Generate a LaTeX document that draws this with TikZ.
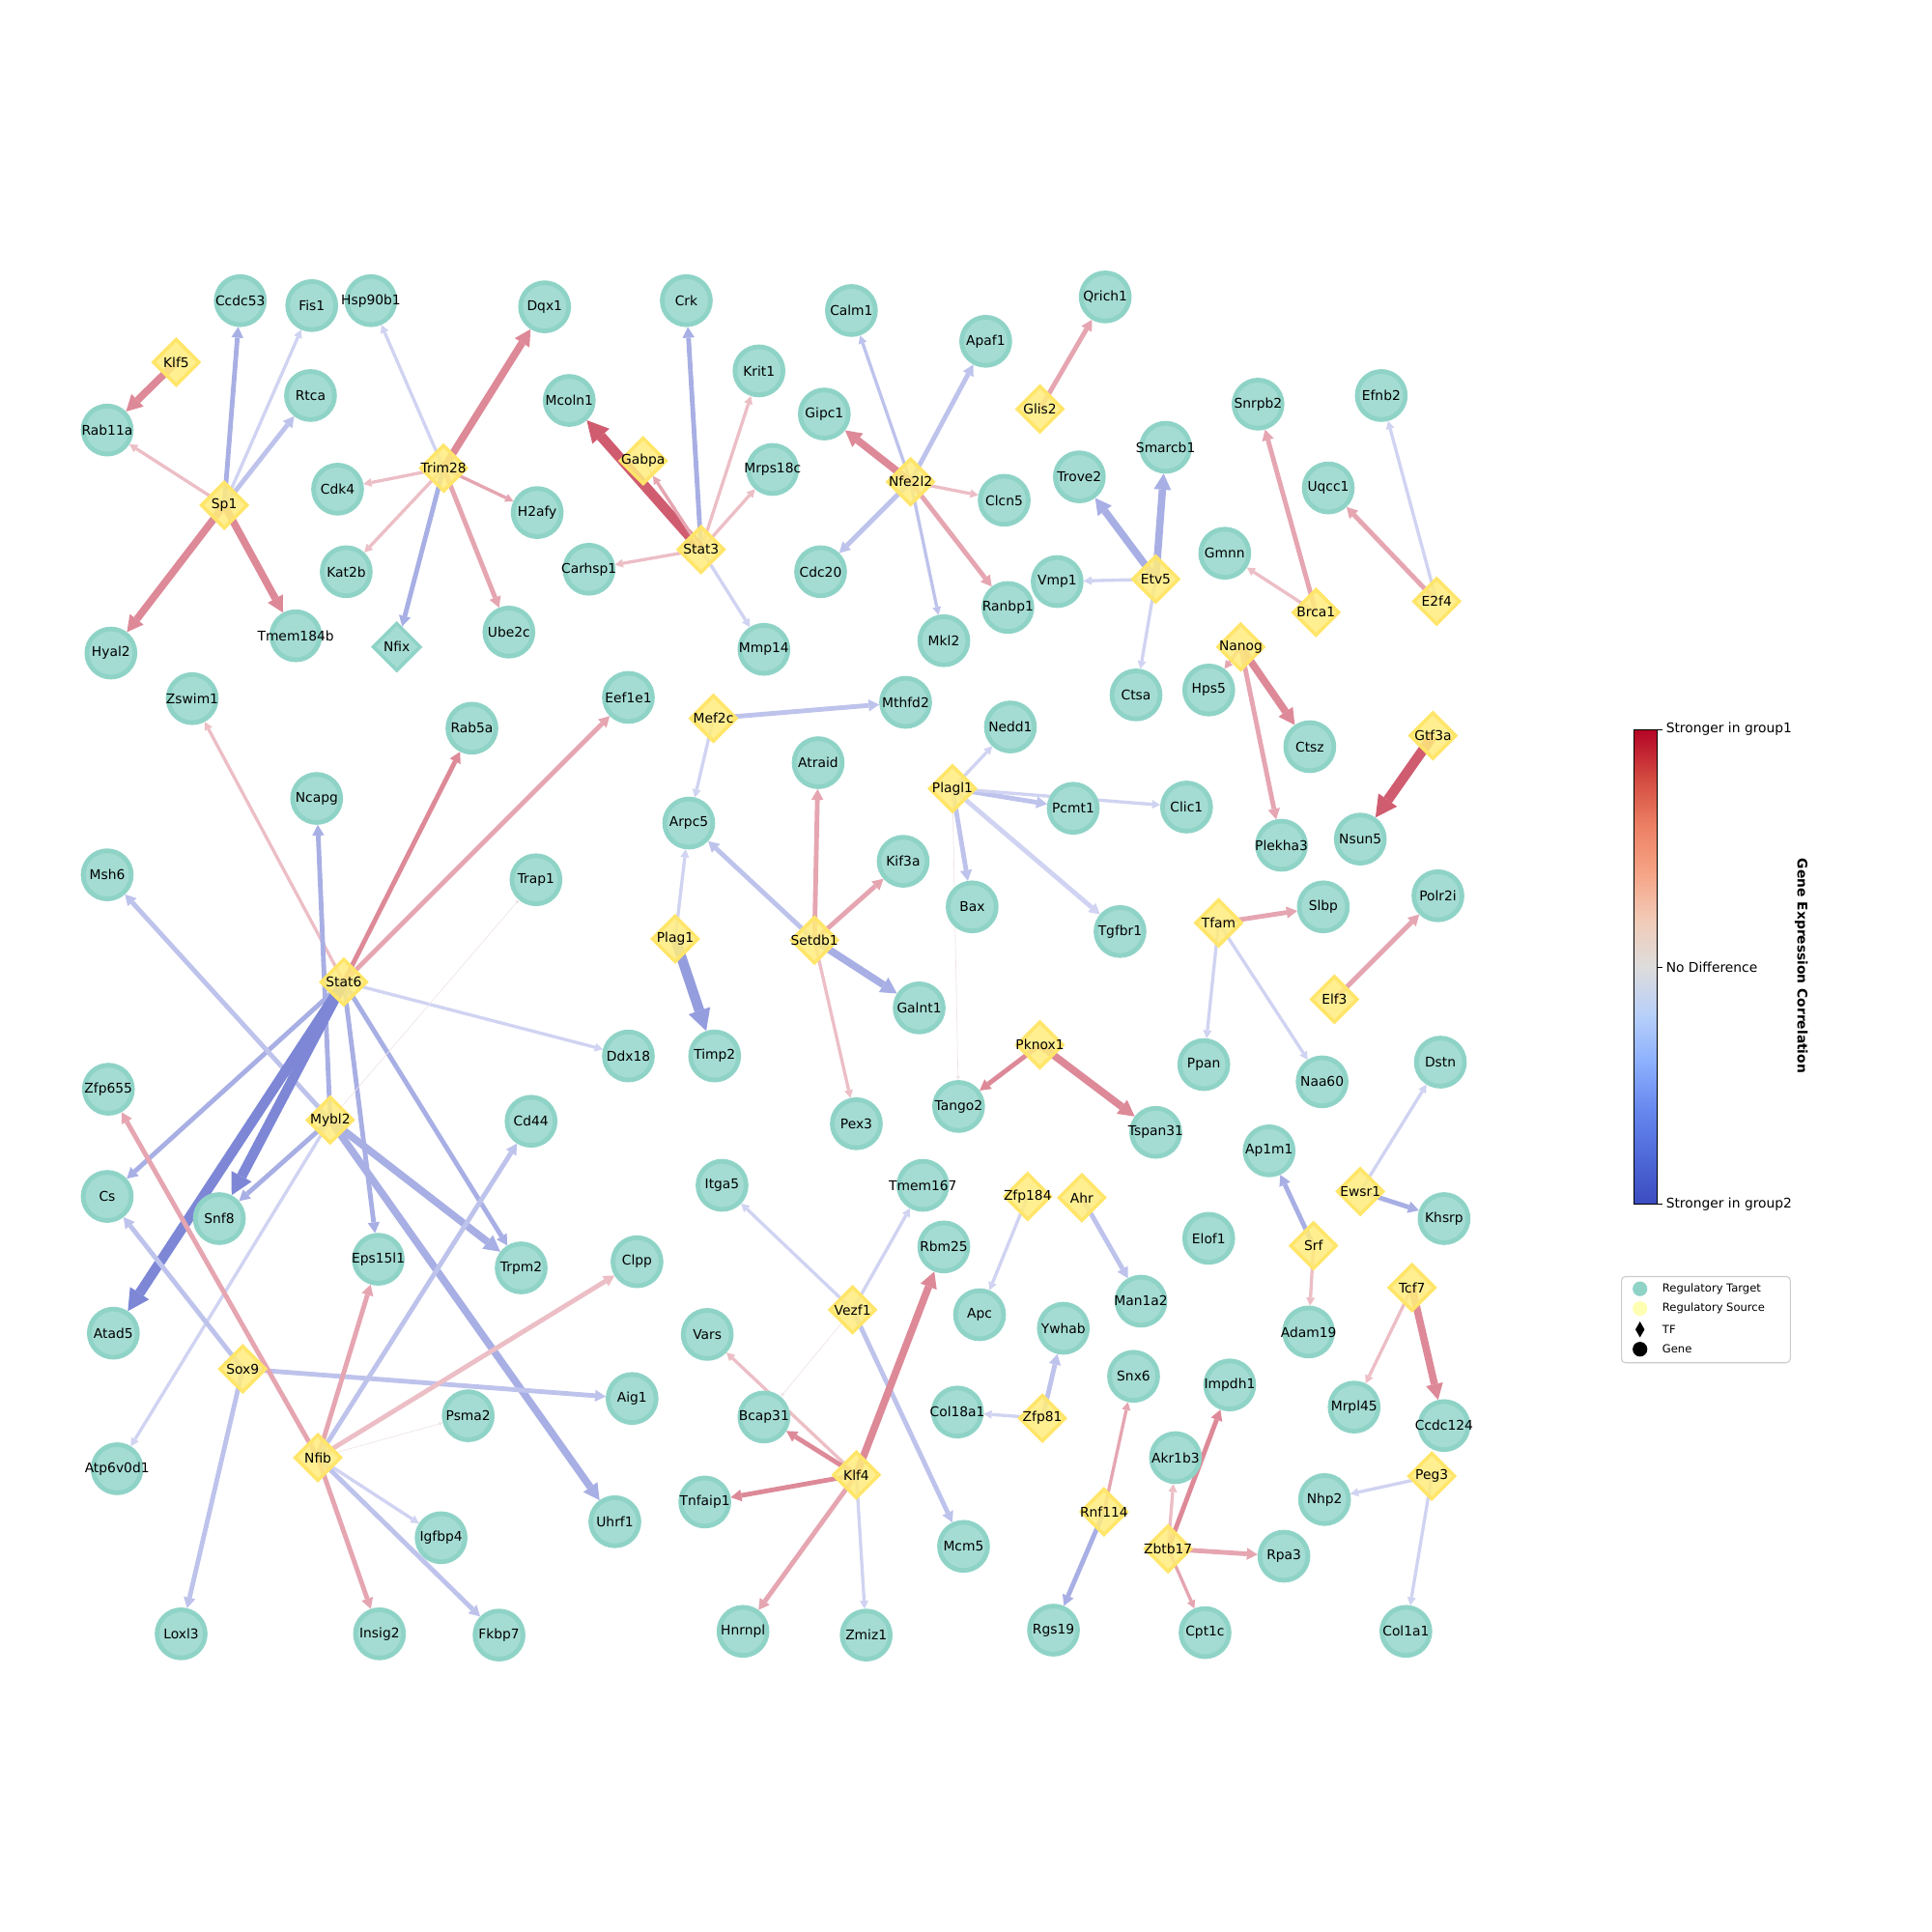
\documentclass[tikz,border=0pt]{standalone}
\usepackage{fontspec}
\setmainfont{DejaVu Sans}
\usetikzlibrary{arrows.meta,shapes.geometric}
\pgfdeclarelayer{edges}
\pgfsetlayers{edges,main}

\definecolor{tgtfill}{RGB}{164,220,211}
\definecolor{tgtring}{RGB}{143,211,199}
\definecolor{srcfill}{RGB}{255,236,125}
\definecolor{srcring}{RGB}{255,229,105}
\definecolor{cUp1}{RGB}{208,92,112}
\definecolor{cUp2}{RGB}{221,137,152}
\definecolor{cUp3}{RGB}{229,165,177}
\definecolor{cUp4}{RGB}{236,190,198}
\definecolor{cDn0}{RGB}{125,135,214}
\definecolor{cDn1}{RGB}{148,157,222}
\definecolor{cDn2}{RGB}{168,175,228}
\definecolor{cDn3}{RGB}{190,195,236}
\definecolor{cDn4}{RGB}{208,211,241}
\definecolor{cFaint}{RGB}{238,228,231}
\definecolor{cw0}{RGB}{59,76,192}
\definecolor{cw1}{RGB}{79,105,217}
\definecolor{cw2}{RGB}{103,136,238}
\definecolor{cw3}{RGB}{141,176,254}
\definecolor{cw4}{RGB}{184,208,249}
\definecolor{cw5}{RGB}{221,220,220}
\definecolor{cw6}{RGB}{242,203,183}
\definecolor{cw7}{RGB}{246,163,133}
\definecolor{cw8}{RGB}{236,127,99}
\definecolor{cw9}{RGB}{210,73,64}
\definecolor{cw10}{RGB}{180,4,38}

\begin{document}
\begin{tikzpicture}[x=0.0324cm,y=-0.0324cm,
  lbl/.style={font=\fontsize{10}{12}\selectfont,inner sep=0pt},
  tgt/.style={circle,fill=tgtfill,draw=tgtring,line width=3.5pt,minimum size=36pt,inner sep=0pt,label={[lbl]center:#1}},
  src/.style={diamond,fill=srcfill,draw=srcring,fill opacity=0.85,line width=2.5pt,minimum size=35pt,inner sep=0pt,label={[lbl]center:#1}},
  tfx/.style={diamond,fill=tgtfill,draw=tgtring,line width=2.5pt,minimum size=36pt,inner sep=0pt,label={[lbl]center:#1}},
  w1/.style={line width=0.5pt,-{Triangle[length=3pt,width=3pt,line width=0pt]}},
  w2/.style={line width=2.4pt,-{Triangle[length=6pt,width=6.5pt,line width=0pt]}},
  w3/.style={line width=3.5pt,-{Triangle[length=8pt,width=9pt,line width=0pt]}},
  w4/.style={line width=5.5pt,-{Triangle[length=12pt,width=13pt,line width=0pt]}},
  w5/.style={line width=7.5pt,-{Triangle[length=16pt,width=17pt,line width=0pt]}},
  up1/.style={draw=cUp1},up2/.style={draw=cUp2},up3/.style={draw=cUp3},up4/.style={draw=cUp4},
  dn0/.style={draw=cDn0},dn1/.style={draw=cDn1},dn2/.style={draw=cDn2},dn3/.style={draw=cDn3},dn4/.style={draw=cDn4},
  faint/.style={draw=cFaint},
  cbtext/.style={anchor=west,font=\fontsize{10}{12}\selectfont,inner sep=0pt},
  legtext/.style={anchor=west,font=\fontsize{8.33}{10}\selectfont,inner sep=0pt}]

  \useasboundingbox (0,0) rectangle (1568,1568);

  % regulatory sources
  \node[src=Klf5] (klf5) at (143,294) {};
  \node[src=Sp1] (sp1) at (182,410) {};
  \node[src=Trim28] (trim28) at (360,380) {};
  \node[src=Gabpa] (gabpa) at (522,374) {};
  \node[src=Stat3] (stat3) at (569,446) {};
  \node[src=Nfe2l2] (nfe2l2) at (739,391) {};
  \node[src=Glis2] (glis2) at (844,332) {};
  \node[src=Etv5] (etv5) at (938,470) {};
  \node[src=Brca1] (brca1) at (1068,497) {};
  \node[src=E2f4] (e2f4) at (1166,488) {};
  \node[src=Nanog] (nanog) at (1007,525) {};
  \node[src=Gtf3a] (gtf3a) at (1163,597) {};
  \node[src=Stat6] (stat6) at (279,797) {};
  \node[src=Mybl2] (mybl2) at (268,909) {};
  \node[src=Sox9] (sox9) at (197,1111) {};
  \node[src=Nfib] (nfib) at (258,1183) {};
  \node[src=Mef2c] (mef2c) at (579,583) {};
  \node[src=Plag1] (plag1) at (548,762) {};
  \node[src=Setdb1] (setdb1) at (661,763) {};
  \node[src=Plagl1] (plagl1) at (773,640) {};
  \node[src=Pknox1] (pknox1) at (844,848) {};
  \node[src=Tfam] (tfam) at (989,749) {};
  \node[src=Elf3] (elf3) at (1083,811) {};
  \node[src=Ewsr1] (ewsr1) at (1104,967) {};
  \node[src=Srf] (srf) at (1066,1011) {};
  \node[src=Tcf7] (tcf7) at (1146,1045) {};
  \node[src=Peg3] (peg3) at (1162,1198) {};
  \node[src=Zfp184] (zfp184) at (834,971) {};
  \node[src=Ahr] (ahr) at (878,972) {};
  \node[src=Vezf1] (vezf1) at (692,1063) {};
  \node[src=Zfp81] (zfp81) at (846,1151) {};
  \node[src=Klf4] (klf4) at (695,1197) {};
  \node[src=Rnf114] (rnf114) at (896,1227) {};
  \node[src=Zbtb17] (zbtb17) at (948,1257) {};
  \node[tfx=Nfix] (nfix) at (322,525) {};

  % regulatory targets
  \node[tgt=Ccdc53] (ccdc53) at (195,244) {};
  \node[tgt=Fis1] (fis1) at (253,248) {};
  \node[tgt=Hsp90b1] (hsp90b1) at (301,244) {};
  \node[tgt=Dqx1] (dqx1) at (442,249) {};
  \node[tgt=Rtca] (rtca) at (252,321) {};
  \node[tgt=Rab11a] (rab11a) at (87,349) {};
  \node[tgt=Cdk4] (cdk4) at (274,397) {};
  \node[tgt=H2afy] (h2afy) at (436,416) {};
  \node[tgt=Kat2b] (kat2b) at (281,464) {};
  \node[tgt=Hyal2] (hyal2) at (90,530) {};
  \node[tgt=Tmem184b] (tmem184b) at (240,516) {};
  \node[tgt=Ube2c] (ube2c) at (413,513) {};
  \node[tgt=Crk] (crk) at (557,244) {};
  \node[tgt=Krit1] (krit1) at (616,301) {};
  \node[tgt=Mcoln1] (mcoln1) at (462,325) {};
  \node[tgt=Mrps18c] (mrps18c) at (627,381) {};
  \node[tgt=Carhsp1] (carhsp1) at (478,462) {};
  \node[tgt=Mmp14] (mmp14) at (620,527) {};
  \node[tgt=Calm1] (calm1) at (691,252) {};
  \node[tgt=Apaf1] (apaf1) at (800,277) {};
  \node[tgt=Gipc1] (gipc1) at (669,336) {};
  \node[tgt=Clcn5] (clcn5) at (815,406) {};
  \node[tgt=Cdc20] (cdc20) at (666,464) {};
  \node[tgt=Ranbp1] (ranbp1) at (818,493) {};
  \node[tgt=Mkl2] (mkl2) at (766,520) {};
  \node[tgt=Qrich1] (qrich1) at (897,241) {};
  \node[tgt=Smarcb1] (smarcb1) at (946,363) {};
  \node[tgt=Trove2] (trove2) at (876,387) {};
  \node[tgt=Vmp1] (vmp1) at (858,472) {};
  \node[tgt=Ctsa] (ctsa) at (922,564) {};
  \node[tgt=Snrpb2] (snrpb2) at (1021,328) {};
  \node[tgt=Efnb2] (efnb2) at (1121,321) {};
  \node[tgt=Uqcc1] (uqcc1) at (1078,396) {};
  \node[tgt=Gmnn] (gmnn) at (994,449) {};
  \node[tgt=Hps5] (hps5) at (981,560) {};
  \node[tgt=Ctsz] (ctsz) at (1063,606) {};
  \node[tgt=Plekha3] (plekha3) at (1040,686) {};
  \node[tgt=Nsun5] (nsun5) at (1104,681) {};
  \node[tgt=Zswim1] (zswim1) at (156,567) {};
  \node[tgt=Eef1e1] (eef1e1) at (510,566) {};
  \node[tgt=Rab5a] (rab5a) at (383,591) {};
  \node[tgt=Ncapg] (ncapg) at (257,648) {};
  \node[tgt=Msh6] (msh6) at (87,710) {};
  \node[tgt=Trap1] (trap1) at (435,714) {};
  \node[tgt=Ddx18] (ddx18) at (510,857) {};
  \node[tgt=Zfp655] (zfp655) at (88,884) {};
  \node[tgt=Cd44] (cd44) at (431,910) {};
  \node[tgt=Cs] (cs) at (87,971) {};
  \node[tgt=Snf8] (snf8) at (178,989) {};
  \node[tgt=Eps15l1] (eps15l1) at (307,1022) {};
  \node[tgt=Trpm2] (trpm2) at (423,1029) {};
  \node[tgt=Clpp] (clpp) at (517,1024) {};
  \node[tgt=Atad5] (atad5) at (92,1082) {};
  \node[tgt=Aig1] (aig1) at (513,1135) {};
  \node[tgt=Psma2] (psma2) at (380,1149) {};
  \node[tgt=Atp6v0d1] (atp6v0d1) at (95,1192) {};
  \node[tgt=Igfbp4] (igfbp4) at (358,1248) {};
  \node[tgt=Uhrf1] (uhrf1) at (499,1235) {};
  \node[tgt=Loxl3] (loxl3) at (147,1326) {};
  \node[tgt=Insig2] (insig2) at (308,1326) {};
  \node[tgt=Fkbp7] (fkbp7) at (405,1327) {};
  \node[tgt=Mthfd2] (mthfd2) at (735,570) {};
  \node[tgt=Atraid] (atraid) at (664,619) {};
  \node[tgt=Arpc5] (arpc5) at (559,668) {};
  \node[tgt=Kif3a] (kif3a) at (733,699) {};
  \node[tgt=Galnt1] (galnt1) at (746,818) {};
  \node[tgt=Timp2] (timp2) at (580,857) {};
  \node[tgt=Pex3] (pex3) at (695,912) {};
  \node[tgt=Nedd1] (nedd1) at (820,590) {};
  \node[tgt=Pcmt1] (pcmt1) at (871,656) {};
  \node[tgt=Clic1] (clic1) at (963,655) {};
  \node[tgt=Bax] (bax) at (789,736) {};
  \node[tgt=Tgfbr1] (tgfbr1) at (909,756) {};
  \node[tgt=Tango2] (tango2) at (778,898) {};
  \node[tgt=Tspan31] (tspan31) at (938,919) {};
  \node[tgt=Slbp] (slbp) at (1074,736) {};
  \node[tgt=Polr2i] (polr2i) at (1167,727) {};
  \node[tgt=Ppan] (ppan) at (977,864) {};
  \node[tgt=Naa60] (naa60) at (1073,878) {};
  \node[tgt=Dstn] (dstn) at (1169,862) {};
  \node[tgt=Ap1m1] (ap1m1) at (1030,934) {};
  \node[tgt=Khsrp] (khsrp) at (1172,989) {};
  \node[tgt=Elof1] (elof1) at (981,1005) {};
  \node[tgt=Adam19] (adam19) at (1062,1081) {};
  \node[tgt=Mrpl45] (mrpl45) at (1099,1142) {};
  \node[tgt=Ccdc124] (ccdc124) at (1172,1157) {};
  \node[tgt=Nhp2] (nhp2) at (1075,1217) {};
  \node[tgt=Rpa3] (rpa3) at (1042,1263) {};
  \node[tgt=Col1a1] (col1a1) at (1141,1324) {};
  \node[tgt=Itga5] (itga5) at (586,962) {};
  \node[tgt=Tmem167] (tmem167) at (749,962) {};
  \node[tgt=Rbm25] (rbm25) at (766,1012) {};
  \node[tgt=Apc] (apc) at (795,1067) {};
  \node[tgt=Man1a2] (man1a2) at (926,1056) {};
  \node[tgt=Ywhab] (ywhab) at (863,1078) {};
  \node[tgt=Vars] (vars) at (574,1083) {};
  \node[tgt=Bcap31] (bcap31) at (620,1150) {};
  \node[tgt=Col18a1] (col18a1) at (777,1146) {};
  \node[tgt=Snx6] (snx6) at (920,1117) {};
  \node[tgt=Impdh1] (impdh1) at (998,1124) {};
  \node[tgt=Akr1b3] (akr1b3) at (954,1183) {};
  \node[tgt=Tnfaip1] (tnfaip1) at (572,1219) {};
  \node[tgt=Mcm5] (mcm5) at (782,1255) {};
  \node[tgt=Hnrnpl] (hnrnpl) at (603,1324) {};
  \node[tgt=Zmiz1] (zmiz1) at (703,1327) {};
  \node[tgt=Rgs19] (rgs19) at (855,1323) {};
  \node[tgt=Cpt1c] (cpt1c) at (978,1325) {};

  \begin{pgfonlayer}{edges}
  \path (klf5.center) edge[w4,up2] (rab11a)
    (sp1.center) edge[w2,up4] (rab11a)
    (sp1.center) edge[w3,dn2] (ccdc53)
    (sp1.center) edge[w2,dn4] (fis1)
    (sp1.center) edge[w3,dn3] (rtca)
    (sp1.center) edge[w4,up2] (hyal2)
    (sp1.center) edge[w4,up2] (tmem184b)
    (trim28.center) edge[w2,dn4] (hsp90b1)
    (trim28.center) edge[w4,up2] (dqx1)
    (trim28.center) edge[w2,up4] (cdk4)
    (trim28.center) edge[w2,up3] (h2afy)
    (trim28.center) edge[w2,up4] (kat2b)
    (trim28.center) edge[w3,dn2] (nfix)
    (trim28.center) edge[w3,up3] (ube2c)
    (stat3.center) edge[w3,dn2] (crk)
    (stat3.center) edge[w2,up4] (krit1)
    (stat3.center) edge[w5,up1] (mcoln1)
    (stat3.center) edge[w2,up3] (gabpa)
    (gabpa.center) edge[w1,up3] (stat3)
    (stat3.center) edge[w2,up4] (mrps18c)
    (stat3.center) edge[w2,up4] (carhsp1)
    (stat3.center) edge[w2,dn4] (mmp14)
    (nfe2l2.center) edge[w2,dn3] (calm1)
    (nfe2l2.center) edge[w3,dn3] (apaf1)
    (nfe2l2.center) edge[w4,up2] (gipc1)
    (nfe2l2.center) edge[w2,up4] (clcn5)
    (nfe2l2.center) edge[w3,dn3] (cdc20)
    (nfe2l2.center) edge[w3,up3] (ranbp1)
    (nfe2l2.center) edge[w2,dn3] (mkl2)
    (glis2.center) edge[w3,up3] (qrich1)
    (etv5.center) edge[w4,dn2] (smarcb1)
    (etv5.center) edge[w4,dn2] (trove2)
    (etv5.center) edge[w2,dn4] (vmp1)
    (etv5.center) edge[w2,dn4] (ctsa)
    (brca1.center) edge[w3,up3] (snrpb2)
    (brca1.center) edge[w2,up4] (gmnn)
    (e2f4.center) edge[w3,up3] (uqcc1)
    (e2f4.center) edge[w2,dn4] (efnb2)
    (nanog.center) edge[w2,up3] (hps5)
    (nanog.center) edge[w4,up2] (ctsz)
    (nanog.center) edge[w3,up3] (plekha3)
    (gtf3a.center) edge[w5,up1] (nsun5);
  \path (stat6.center) edge[w2,up4] (zswim1)
    (stat6.center) edge[w3,up2] (rab5a)
    (stat6.center) edge[w3,up3] (eef1e1)
    (stat6.center) edge[w2,dn4] (ddx18)
    (stat6.center) edge[w3,dn2] (cs)
    (stat6.center) edge[w3,dn2] (eps15l1)
    (stat6.center) edge[w3,dn2] (trpm2)
    (mybl2.center) edge[w3,dn2] (ncapg)
    (mybl2.center) edge[w3,dn3] (msh6)
    (mybl2.center) edge[w3,dn2] (snf8)
    (mybl2.center) edge[w4,dn2] (trpm2)
    (mybl2.center) edge[w4,dn2] (uhrf1)
    (mybl2.center) edge[w1,faint] (trap1)
    (mybl2.center) edge[w2,dn4] (atp6v0d1)
    (stat6.center) edge[w5,dn0] (snf8)
    (stat6.center) edge[w5,dn0] (atad5)
    (sox9.center) edge[w3,dn3] (cs)
    (sox9.center) edge[w3,dn3] (aig1)
    (sox9.center) edge[w3,dn3] (loxl3)
    (nfib.center) edge[w3,up3] (zfp655)
    (nfib.center) edge[w3,up3] (eps15l1)
    (nfib.center) edge[w3,dn3] (cd44)
    (nfib.center) edge[w3,up4] (clpp)
    (nfib.center) edge[w1,faint] (psma2)
    (nfib.center) edge[w2,dn4] (igfbp4)
    (nfib.center) edge[w3,dn3] (fkbp7)
    (nfib.center) edge[w3,up3] (insig2);
  \path (mef2c.center) edge[w3,dn3] (mthfd2)
    (mef2c.center) edge[w2,dn4] (arpc5)
    (plag1.center) edge[w2,dn4] (arpc5)
    (plag1.center) edge[w5,dn1] (timp2)
    (setdb1.center) edge[w3,dn3] (arpc5)
    (setdb1.center) edge[w3,up3] (atraid)
    (setdb1.center) edge[w3,up3] (kif3a)
    (setdb1.center) edge[w4,dn2] (galnt1)
    (setdb1.center) edge[w2,up4] (pex3)
    (plagl1.center) edge[w2,dn4] (nedd1)
    (plagl1.center) edge[w3,dn3] (pcmt1)
    (plagl1.center) edge[w2,dn4] (clic1)
    (plagl1.center) edge[w3,dn3] (bax)
    (plagl1.center) edge[w3,dn4] (tgfbr1)
    (plagl1.center) edge[w1,faint] (tango2)
    (pknox1.center) edge[w3,up2] (tango2)
    (pknox1.center) edge[w4,up2] (tspan31)
    (tfam.center) edge[w3,up3] (slbp)
    (tfam.center) edge[w2,dn4] (ppan)
    (tfam.center) edge[w2,dn4] (naa60)
    (elf3.center) edge[w3,up3] (polr2i)
    (ewsr1.center) edge[w2,dn4] (dstn)
    (ewsr1.center) edge[w3,dn2] (khsrp)
    (srf.center) edge[w3,dn2] (ap1m1)
    (srf.center) edge[w2,up4] (adam19)
    (tcf7.center) edge[w2,up4] (mrpl45)
    (tcf7.center) edge[w4,up2] (ccdc124)
    (peg3.center) edge[w2,dn4] (nhp2)
    (peg3.center) edge[w2,dn4] (col1a1);
  \path (zfp184.center) edge[w2,dn4] (apc)
    (ahr.center) edge[w3,dn3] (man1a2)
    (zfp81.center) edge[w3,dn3] (ywhab)
    (zfp81.center) edge[w2,dn4] (col18a1)
    (vezf1.center) edge[w2,dn4] (itga5)
    (vezf1.center) edge[w2,dn4] (tmem167)
    (vezf1.center) edge[w3,dn3] (mcm5)
    (vezf1.center) edge[w1,faint] (bcap31)
    (klf4.center) edge[w4,up2] (rbm25)
    (klf4.center) edge[w2,up4] (vars)
    (klf4.center) edge[w3,up2] (bcap31)
    (klf4.center) edge[w3,up2] (tnfaip1)
    (klf4.center) edge[w3,up3] (hnrnpl)
    (klf4.center) edge[w2,dn4] (zmiz1)
    (rnf114.center) edge[w2,up3] (snx6)
    (rnf114.center) edge[w3,dn2] (rgs19)
    (zbtb17.center) edge[w2,up4] (akr1b3)
    (zbtb17.center) edge[w3,up2] (impdh1)
    (zbtb17.center) edge[w3,up3] (rpa3)
    (zbtb17.center) edge[w2,up3] (cpt1c);
  \end{pgfonlayer}

  % colour bar
  \foreach \k [evaluate=\k as \j using int(\k+1)] in {0,...,9}
    \shade[bottom color=cw\k,top color=cw\j] (1326,{977-38.5*\k+0.3}) rectangle (1345,{977-38.5*\j});
  \draw[line width=0.8pt] (1326,592) rectangle (1345,977);
  \foreach \y in {592,785,977}
    \draw[line width=0.8pt] (1345,\y) -- (1349,\y);
  \node[cbtext] (cbtop) at (1352,592) {Stronger in group1};
  \node[cbtext] (cbmid) at (1352,785) {No Difference};
  \node[cbtext] (cbbot) at (1352,977) {Stronger in group2};
  \node[rotate=-90,font=\fontsize{10}{12}\selectfont\bfseries] (cbtitle) at (1462,784) {Gene Expression Correlation};

  % legend
  \draw[draw=black!20,line width=0.8pt,rounded corners=3pt,fill=white] (1316,1036) rectangle (1453,1106);
  \node[circle,fill=tgtring,minimum size=11pt,inner sep=0pt] (legtgt) at (1331,1046) {};
  \node[circle,fill={rgb,255:red,255;green,255;blue,179},minimum size=11pt,inner sep=0pt] (legsrc) at (1331,1062) {};
  \node[diamond,fill=black,minimum width=7pt,minimum height=12pt,inner sep=0pt] (legtf) at (1331,1079) {};
  \node[circle,fill=black,minimum size=11pt,inner sep=0pt] (leggene) at (1331,1095) {};
  \node[legtext] at (1349,1046) {Regulatory Target};
  \node[legtext] at (1349,1062) {Regulatory Source};
  \node[legtext] at (1349,1079) {TF};
  \node[legtext] at (1349,1095) {Gene};
\end{tikzpicture}
\end{document}
